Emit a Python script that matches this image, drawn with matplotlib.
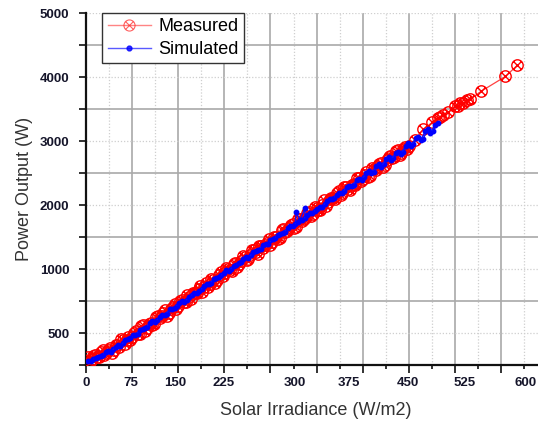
import matplotlib
matplotlib.use("Agg")
import matplotlib.pyplot as plt
from matplotlib.path import Path
from matplotlib.lines import Line2D

# ---------------- data (axis units: one solid gridline step = 75 in x, 1000 in y) -------------
meas_x = [3, 9, 15, 21, 27, 33, 39, 45, 51, 57, 63, 69, 75, 81, 87, 93, 99, 105, 111, 117,
          123, 129, 135, 141, 147, 153, 159, 165, 171, 177, 183, 189, 195, 201, 207, 213, 219,
          225, 231, 237, 243, 249, 255, 261, 267, 273, 279, 285, 291, 297, 303, 309, 315, 321,
          327, 333, 339, 345, 351, 357, 363, 369, 375, 381, 387, 393, 399, 405, 411, 417, 423,
          429, 435, 441, 447, 453, 459, 465, 471, 477, 483, 489, 495, 501, 507, 513, 519, 525,
          535, 548, 563, 573, 576, 581, 589, 600, 605, 608, 613, 620, 625, 642, 682, 701]
meas_y = [120, 95, 150, 120, 240, 190, 270, 235, 320, 400, 330, 432, 437, 531, 486, 621,
          581, 655, 635, 760, 759, 864, 814, 904, 868, 1003, 988, 1092, 1037, 1122, 1192,
          1141, 1286, 1261, 1335, 1325, 1455, 1430, 1504, 1469, 1599, 1574, 1698, 1638, 1723,
          1792, 1742, 1857, 1872, 1966, 1926, 2006, 1990, 2130, 2100, 2185, 2134, 2279, 2254,
          2313, 2393, 2358, 2458, 2422, 2572, 2542, 2607, 2591, 2721, 2686, 2785, 2735, 2835,
          2915, 2879, 2969, 2944, 3083, 3053, 3138, 3098, 3197, 3267, 3247, 3366, 3311, 3411,
          3420, 3520, 3680, 3791, 3853, 3869, 3900, 3947, 4040, 4040, 4087, 4087, 4134, 4150,
          4274, 4508, 4680]

# second pass of measured samples in the dense low/mid range
meas_x_b = [6, 12, 18, 24, 30, 36, 42, 48, 54, 60, 66, 72, 78, 84, 90, 96, 102, 108, 114,
            120, 126, 132, 138, 144, 150, 156, 162, 168, 174, 180, 186, 192, 198, 204, 210,
            216, 222, 228, 234, 240, 246, 252, 258, 264, 270, 276, 282, 288, 294, 300, 306,
            312, 318, 324, 330, 336, 342, 348, 354, 360, 366, 372, 378, 384, 390, 396, 402,
            408, 414, 420, 426, 432, 438, 444, 450, 456, 462, 468, 474, 480, 486, 492, 498,
            504, 510, 516, 522]
meas_y_b = [45, 139, 119, 209, 154, 228, 188, 318, 288, 397, 387, 387, 501, 491, 606, 536,
            645, 630, 750, 739, 809, 764, 874, 958, 918, 1023, 978, 1067, 1132, 1122, 1231,
            1211, 1221, 1336, 1285, 1400, 1390, 1520, 1484, 1584, 1529, 1628, 1683, 1663,
            1793, 1772, 1857, 1832, 1911, 1876, 2006, 1971, 2105, 2075, 2140, 2209, 2159,
            2274, 2284, 2378, 2333, 2473, 2423, 2507, 2482, 2597, 2606, 2691, 2656, 2786,
            2755, 2820, 2805, 2919, 2904, 3019, 2949, 3068, 3088, 3163, 3128, 3252, 3227,
            3347, 3276, 3381, 3376]

sim_x = [4, 12, 20, 28, 36, 44, 52, 60, 68, 76, 84, 92, 100, 108, 116, 124, 132, 140, 148,
         156, 164, 172, 180, 188, 196, 204, 212, 220, 228, 236, 244, 252, 260, 268, 276, 284,
         292, 300, 308, 316, 324, 332, 340, 342, 348, 356, 356, 364, 372, 380, 388, 396, 404,
         412, 420, 428, 436, 444, 452, 460, 468, 476, 484, 492, 500, 508, 516, 524, 532, 540,
         548, 556, 564, 572]
sim_y = [60, 90, 130, 150, 220, 250, 314, 337, 400, 465, 488, 567, 600, 683, 710, 786, 804,
         882, 925, 1003, 1021, 1099, 1132, 1195, 1263, 1280, 1363, 1401, 1477, 1500, 1570,
         1603, 1691, 1716, 1789, 1812, 1883, 1951, 1979, 2050, 2075, 2166, 2196, 2390, 2264,
         2450, 2292, 2380, 2401, 2471, 2511, 2586, 2606, 2687, 2725, 2795, 2816, 2914, 2932,
         3025, 3023, 3136, 3139, 3247, 3230, 3333, 3326, 3464, 3452, 3555, 3533, 3681, 3649,
         3777]

sim_x_b = [8, 16, 24, 32, 40, 48, 56, 64, 72, 80, 88, 96, 104, 112, 120, 128, 136, 144, 152,
           160, 168, 176, 184, 192, 200, 208, 216, 224, 232, 240, 248, 256, 264, 272, 280,
           288, 296, 304, 312, 320, 328, 336, 344, 352, 360, 368, 376, 384, 392, 400, 408,
           416, 424, 432, 440, 448, 456, 464, 472, 480, 488, 496, 504, 512, 520, 528, 536,
           544, 552, 560, 568]
sim_y_b = [63, 116, 134, 197, 200, 276, 301, 386, 427, 468, 551, 578, 649, 673, 749, 787,
           870, 898, 971, 989, 1062, 1127, 1153, 1229, 1264, 1347, 1368, 1438, 1468, 1549,
           1587, 1660, 1678, 1759, 1796, 1875, 1895, 1963, 2028, 2058, 2141, 2169, 2237,
           2262, 2348, 2374, 2444, 2472, 2563, 2590, 2663, 2689, 2777, 2800, 2888, 2896,
           2999, 3007, 3110, 3098, 3221, 3209, 3317, 3295, 3428, 3415, 3543, 3511, 3654,
           3632, 3750]

y_label_pos = [500, 1500, 2500, 3500, 4500, 5500]
y_label_txt = ["500", "1000", "2000", "3000", "4000", "5000"]
x_label_pos = [0, 73, 145, 224, 340, 428, 524, 615, 714]
x_label_txt = ["0", "75", "150", "225", "300", "375", "450", "525", "600"]

series_names = ["Measured", "Simulated"]

# ---------------- figure ----------------
plt.rcParams['font.family'] = ['Liberation Sans', 'DejaVu Sans']
fig = plt.figure(figsize=(5.38, 4.21), dpi=100)
ax = fig.add_axes([86/538, 56/421, 452/538, 352/421])

ax.set_xlim(0, 735)
ax.set_ylim(0, 5500)

# circle-with-x marker
cx = Path.make_compound_path(
    Path.unit_circle(),
    Path([(-0.707, -0.707), (0.707, 0.707)], [Path.MOVETO, Path.LINETO]),
    Path([(-0.707, 0.707), (0.707, -0.707)], [Path.MOVETO, Path.LINETO]),
)

red_line = dict(color='#ff2020', lw=0.9, alpha=0.85, zorder=3)
red_mark = dict(ls='none', marker=cx, ms=8.2, mfc='none', mec='#ff0000', mew=1.0, zorder=3)
ax.plot(meas_x, meas_y, **red_line)
ax.plot(meas_x_b, meas_y_b, **red_line)
ax.plot(meas_x, meas_y, **red_mark)
ax.plot(meas_x_b, meas_y_b, **red_mark)

blue = dict(color='#1010ff', lw=1.0, marker='o', ms=3.2, mfc='#0000ff', mec='#0000ff',
            zorder=4)
ax.plot(sim_x, sim_y, **blue)
ax.plot(sim_x_b, sim_y_b, **blue)

# ticks & grid
major_x = [75 * i for i in range(10)]
minor_x = [37.5 + 75 * i for i in range(10)]
ax.set_xticks(major_x)
ax.set_xticks(minor_x, minor=True)
ax.set_xticklabels([])
ax.set_yticks([0, 1000, 2000, 3000, 4000, 5000])
ax.set_yticklabels([])
ax.set_yticks(y_label_pos, minor=True)
ax.set_yticklabels(y_label_txt, minor=True, fontweight='bold', fontsize=9.5,
                   color='#15152a')

ax.tick_params(axis='both', which='both', direction='out', color='#222222', width=1.3)
ax.tick_params(axis='y', which='both', length=5, pad=7)
ax.tick_params(axis='x', which='major', length=5.5)
ax.tick_params(axis='x', which='minor', length=3)

ax.grid(True, which='major', color='#a9a9a9', lw=1.2, ls='-')
ax.grid(True, which='minor', color='#cfcfcf', lw=0.9, ls=(0, (1, 1.5)))
ax.set_axisbelow(True)

for s in ['top', 'right']:
    ax.spines[s].set_visible(False)
for s in ['left', 'bottom']:
    ax.spines[s].set_linewidth(1.6)
    ax.spines[s].set_color('#111111')

# x tick labels at their printed positions
xtrans = ax.get_xaxis_transform()
for p, t in zip(x_label_pos, x_label_txt):
    ax.text(p, -0.051, t, transform=xtrans, ha='center', va='center',
            fontweight='bold', fontsize=9.5, color='#15152a', clip_on=False)

ax.set_xlabel("Solar Irradiance (W/m2)", fontsize=13, color='#333333')
ax.xaxis.set_label_coords(0.509, -0.128)
ax.xaxis.label.set_va('center')
ax.set_ylabel("Power Output (W)", fontsize=13, color='#333333')
ax.yaxis.set_label_coords(-0.135, 0.5)
ax.yaxis.label.set_va('center')

h1 = Line2D([], [], color='#ff5050', lw=1.0, alpha=0.7, marker=cx, ms=8, mfc='none',
            mec='#ff2020', mew=0.8)
h2 = Line2D([], [], color='#3030ff', lw=1.0, alpha=0.8, marker='o', ms=3.5,
            mfc='#0000ff', mec='#0000ff')
leg = ax.legend([h1, h2], series_names, loc='upper left', bbox_to_anchor=(0.036, 1.0),
                borderaxespad=0, fontsize=13, frameon=True, fancybox=False,
                edgecolor='#333333', framealpha=1, handlelength=2.4, handletextpad=0.4,
                borderpad=0.3, labelspacing=0.3)
leg.get_frame().set_linewidth(1.0)
leg.set_zorder(10)

fig.savefig("out.png", dpi=100)
